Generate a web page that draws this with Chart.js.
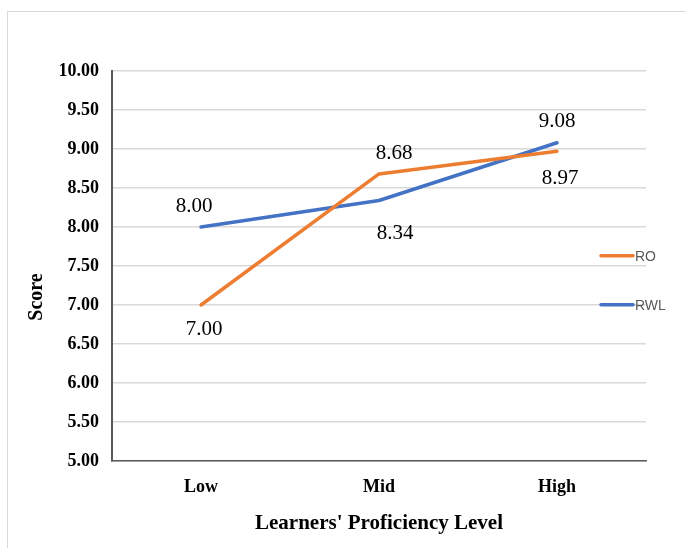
<!DOCTYPE html>
<html>
<head>
<meta charset="utf-8">
<script src="https://cdn.jsdelivr.net/npm/chart.js@4.4.1/dist/chart.umd.min.js"></script>
<style>
  html, body { margin: 0; padding: 0; background: #ffffff; }
  #wrap { position: relative; width: 686px; height: 548px; overflow: hidden; }
  #frame { position: absolute; left: 7px; top: 11px; width: 700px; height: 560px; border: 1px solid #d9d9d9; box-sizing: border-box; }
  canvas { position: absolute; left: 0; top: 0; }
</style>
</head>
<body>
<div id="wrap">
  <div id="frame"></div>
  <canvas id="c" width="686" height="548"></canvas>
</div>
<script>
const categories = ['Low', 'Mid', 'High'];
const roValues = [7.00, 8.68, 8.97];
const rwlValues = [8.00, 8.34, 9.08];
const yTickMin = 5.0;
const yTickMax = 10.0;
const yTickStep = 0.5;
const seriesNames = ['RO', 'RWL'];

// label placement (style only): [dx, dy] relative to point
const roLabelShift = [[3, 24], [15, -20], [3, 27]];
const rwlLabelShift = [[-7, -21], [16, 33], [0, -21]];

const serif = "'Liberation Serif', 'Times New Roman', serif";
const sans = "'Liberation Sans', Arial, sans-serif";

const dataLabelPlugin = {
  id: 'dataLabels',
  afterDatasetsDraw(chart) {
    const ctx = chart.ctx;
    ctx.save();
    ctx.font = '21px ' + serif;
    ctx.fillStyle = '#000000';
    ctx.textAlign = 'center';
    ctx.textBaseline = 'middle';
    chart.data.datasets.forEach((ds, di) => {
      const meta = chart.getDatasetMeta(di);
      meta.data.forEach((pt, i) => {
        const s = ds.labelShift[i];
        ctx.fillText(ds.data[i].toFixed(2), pt.x + s[0], pt.y + s[1]);
      });
    });
    ctx.restore();
  }
};

const sideLegendPlugin = {
  id: 'sideLegend',
  afterDraw(chart) {
    const ctx = chart.ctx;
    const area = chart.chartArea;
    const yScale = chart.scales.y;
    ctx.save();
    chart.data.datasets.forEach((ds, di) => {
      const y = yScale.getPixelForValue(7.63) + di * 49;
      const x0 = area.right - 45;
      ctx.strokeStyle = ds.borderColor;
      ctx.lineWidth = 3.5;
      ctx.lineCap = 'round';
      ctx.beginPath();
      ctx.moveTo(x0, y);
      ctx.lineTo(x0 + 32, y);
      ctx.stroke();
      ctx.fillStyle = '#595959';
      ctx.font = '14px ' + sans;
      ctx.textAlign = 'left';
      ctx.textBaseline = 'middle';
      ctx.fillText(ds.label, x0 + 34, y + 1);
    });
    ctx.restore();
  }
};

const yTitlePlugin = {
  id: 'yTitle',
  afterDraw(chart) {
    const ctx = chart.ctx;
    const area = chart.chartArea;
    ctx.save();
    ctx.translate(37, (area.top + area.bottom) / 2 + 31);
    ctx.rotate(-Math.PI / 2);
    ctx.font = 'bold 20px ' + serif;
    ctx.fillStyle = '#000000';
    ctx.textAlign = 'center';
    ctx.textBaseline = 'middle';
    ctx.fillText('Score', 0, 0);
    ctx.restore();
  }
};

new Chart(document.getElementById('c'), {
  type: 'line',
  data: {
    labels: categories,
    datasets: [
      {
        label: seriesNames[0],
        data: roValues,
        borderColor: '#ED7D31',
        backgroundColor: '#ED7D31',
        borderWidth: 3.5,
        pointRadius: 0,
        tension: 0,
        borderCapStyle: 'round',
        borderJoinStyle: 'round',
        labelShift: roLabelShift
      },
      {
        label: seriesNames[1],
        data: rwlValues,
        borderColor: '#4472C4',
        backgroundColor: '#4472C4',
        borderWidth: 3.5,
        pointRadius: 0,
        tension: 0,
        borderCapStyle: 'round',
        borderJoinStyle: 'round',
        labelShift: rwlLabelShift
      }
    ]
  },
  options: {
    responsive: false,
    animation: false,
    events: [],
    layout: { padding: { top: 71, right: 40, bottom: 0, left: 0 } },
    plugins: {
      legend: { display: false },
      tooltip: { enabled: false },
      title: { display: false }
    },
    scales: {
      x: {
        offset: true,
        grid: { display: false, drawTicks: false },
        border: { display: true, color: '#595959', width: 1.5 },
        ticks: {
          color: '#000000',
          font: { family: serif, size: 18, weight: 'bold' },
          padding: 16,
          maxRotation: 0
        },
        title: {
          display: true,
          text: "Learners' Proficiency Level",
          color: '#000000',
          font: { family: serif, size: 21, weight: 'bold' },
          padding: { top: 0, bottom: 12 }
        },
        afterFit(scale) { scale.height = 87; }
      },
      y: {
        min: yTickMin,
        max: yTickMax,
        grid: { color: '#d9d9d9', lineWidth: 1.5, drawTicks: false },
        border: { display: true, color: '#595959', width: 2 },
        ticks: {
          stepSize: yTickStep,
          color: '#000000',
          font: { family: serif, size: 18, weight: 'bold' },
          padding: 13,
          callback: (v) => Number(v).toFixed(2)
        },
        afterFit(scale) { scale.width = 112; }
      }
    }
  },
  plugins: [dataLabelPlugin, sideLegendPlugin, yTitlePlugin]
});
</script>
</body>
</html>
